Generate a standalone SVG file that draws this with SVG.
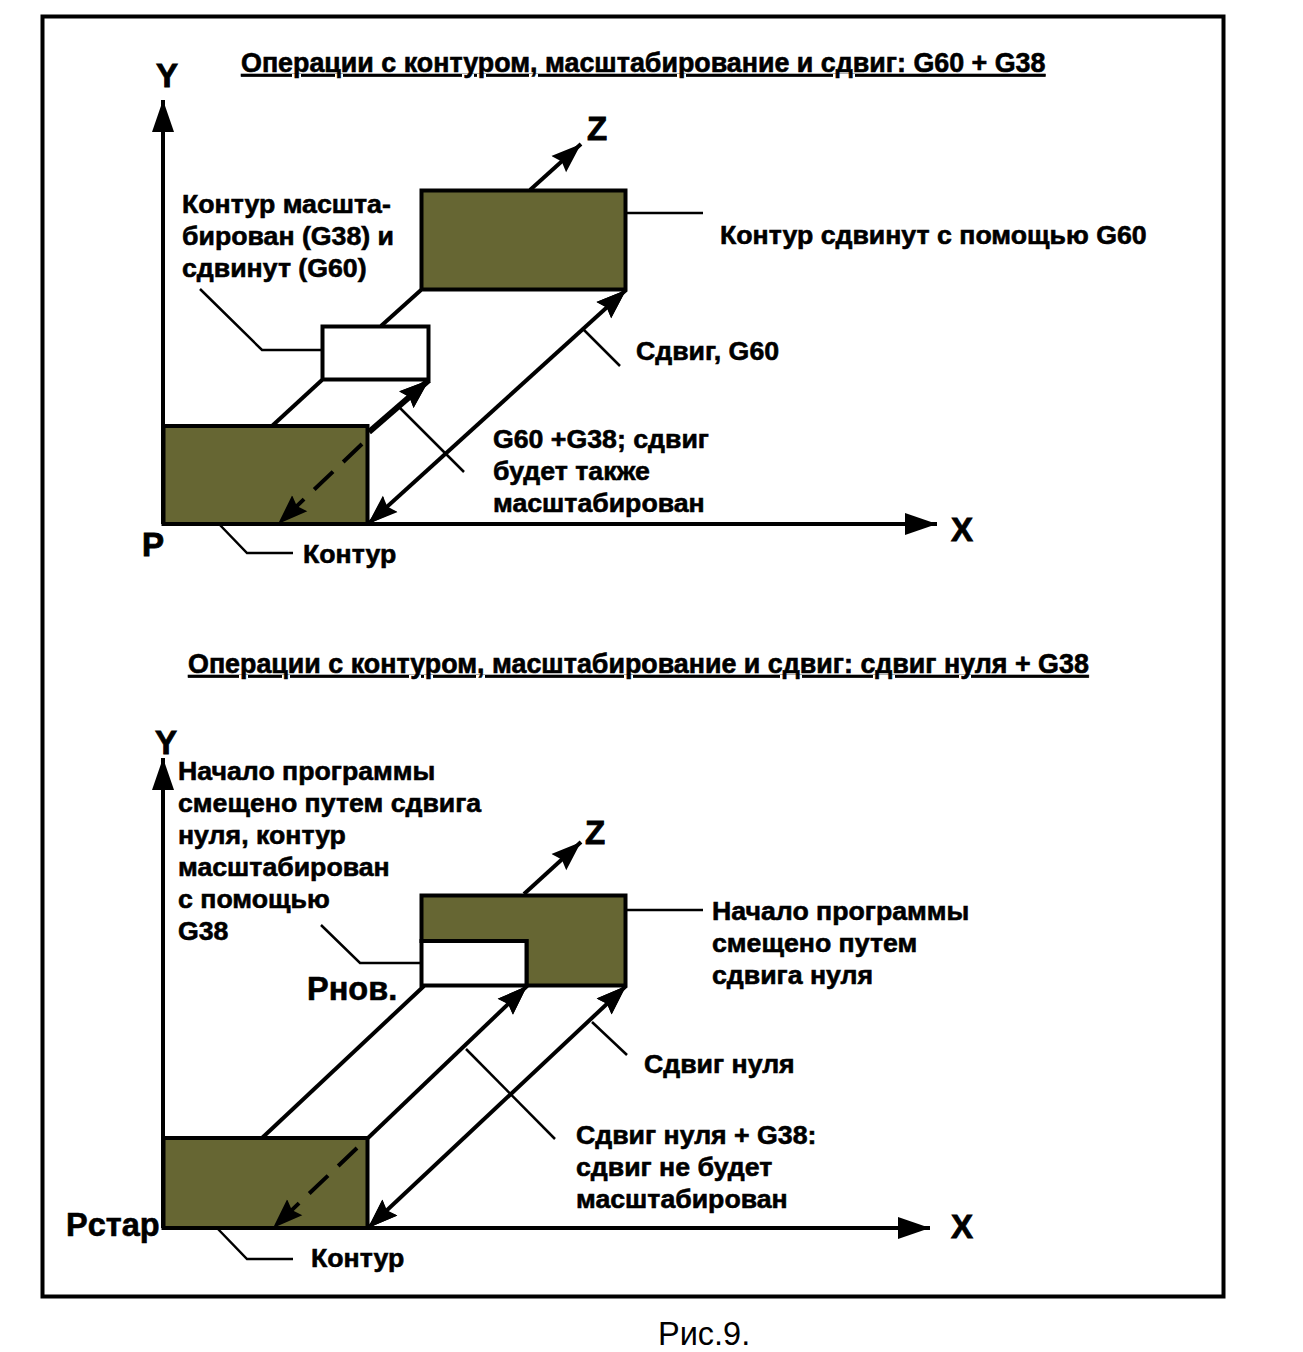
<svg xmlns="http://www.w3.org/2000/svg" width="1303" height="1352" viewBox="0 0 1303 1352">
<style>
text{font-family:"Liberation Sans",Arial,sans-serif;font-weight:bold;fill:#000;stroke:#000;stroke-width:.6px;font-size:26.7px}
.ax{font-size:33px;stroke-width:.9px}
.big{font-size:32.5px;stroke-width:.6px}
.cap{font-weight:normal;font-size:32.500px;stroke:none}
.t{text-decoration:underline;font-size:26.85px}
.box{stroke:#000;stroke-width:4;fill:#666633}
.w{fill:#fff}
.c line,.c polyline{stroke:#000;fill:none}
.l{stroke-width:4}
.n{stroke-width:2.5}
</style>
<defs>
<marker id="a" markerUnits="userSpaceOnUse" markerWidth="32" markerHeight="24" refX="30" refY="12" orient="auto-start-reverse"><path d="M0 1L30 12L0 23L4 12Z" fill="#000"/></marker>
<marker id="b" markerUnits="userSpaceOnUse" markerWidth="34" markerHeight="22" refX="32" refY="11" orient="auto-start-reverse"><path d="M0 0L32 11L0 22Z" fill="#000"/></marker>
</defs>
<rect id="frame" x="42.500" y="16.500" width="1181" height="1280" fill="#fff" stroke="#000" stroke-width="4"/>
<g id="title1"><text class="t" x="241" y="72">Операции с контуром, масштабирование и сдвиг: G60 + G38</text></g>
<g id="title2"><text class="t" x="188" y="673">Операции с контуром, масштабирование и сдвиг: сдвиг нуля + G38</text></g>
<g class="c" id="connectors">
<line class="l" x1="163" y1="524" x2="163" y2="100" marker-end="url(#b)"/>
<line class="l" x1="163" y1="524" x2="937" y2="524" marker-end="url(#b)"/>
<line class="l" x1="530" y1="190" x2="581" y2="144" marker-end="url(#a)"/>
<line class="l" x1="272" y1="426" x2="322" y2="380"/>
<line class="l" x1="381" y1="326" x2="421" y2="290"/>
<line class="l" x1="369" y1="432" x2="429" y2="380" style="stroke-width:6" marker-end="url(#a)"/>
<line class="l" x1="368" y1="524" x2="626" y2="290" marker-start="url(#a)" marker-end="url(#a)"/>
<polyline class="n" points="200,289 262,350 322,350"/>
<line class="n" x1="626" y1="213" x2="703" y2="213"/>
<line class="n" x1="583" y1="329" x2="620" y2="366"/>
<line class="n" x1="400" y1="408" x2="464" y2="472"/>
<polyline class="n" points="219,524 247,553 293,553"/>
<line class="l" x1="163" y1="1228" x2="163" y2="758" marker-end="url(#b)"/>
<line class="l" x1="163" y1="1228" x2="930" y2="1228" marker-end="url(#b)"/>
<line class="l" x1="524" y1="894" x2="581" y2="842" marker-end="url(#a)"/>
<line class="l" x1="262" y1="1138" x2="424" y2="986"/>
<line class="l" x1="368" y1="1138" x2="527" y2="986" marker-end="url(#a)"/>
<line class="l" x1="368" y1="1228" x2="626" y2="986" marker-start="url(#a)" marker-end="url(#a)"/>
<polyline class="n" points="321,925 360,963 421,963"/>
<line class="n" x1="626" y1="910" x2="703" y2="910"/>
<line class="n" x1="592" y1="1022" x2="627" y2="1055"/>
<line class="n" x1="466" y1="1049" x2="555" y2="1139"/>
<polyline class="n" points="217,1228 247,1259 293,1259"/>
</g>
<g id="n1"><rect class="box" x="163.500" y="426" width="204" height="98"/></g>
<g id="n2"><rect class="box" x="421.500" y="190.500" width="204" height="99"/></g>
<g id="n3"><rect class="box w" x="322.500" y="326.500" width="106" height="53"/></g>
<g id="n4"><rect class="box" x="163.500" y="1138" width="204" height="90"/></g>
<g id="n5"><path class="box" d="M421.500 895.500H625.500V985.500H526.500V941H421.500Z"/><rect class="box w" x="421.500" y="941" width="105" height="44.500"/></g>
<g class="c" id="connectors-over">
<line class="l" x1="362" y1="444" x2="278" y2="524" stroke-dasharray="26 14" marker-end="url(#a)"/>
<line class="l" x1="357" y1="1148" x2="273" y2="1228" stroke-dasharray="26 14" marker-end="url(#a)"/>
<path d="M368 524L398 514L390 524L398 534Z" transform="rotate(-42.200 368 524)" fill="#000"/>
<path d="M368 1228L398 1217L393 1228L398 1239Z" transform="rotate(-43 368 1228)" fill="#000"/>
<path d="M429 380L399 369L403 380L399 391Z" transform="rotate(-41 429 380)" fill="#000"/>
<path d="M626 290L596 279L600 290L596 301Z" transform="rotate(-42.200 626 290)" fill="#000"/>
<path d="M527 986L497 975L501 986L497 997Z" transform="rotate(-43.700 527 986)" fill="#000"/>
<path d="M626 986L596 975L600 986L596 997Z" transform="rotate(-43 626 986)" fill="#000"/>
</g>
<g id="labels">
<text class="ax" x="156" y="87">Y</text>
<text class="ax" x="951" y="541">X</text>
<text class="ax" x="587" y="140">Z</text>
<text class="ax" x="142" y="556">P</text>
<text class="ax" x="155" y="754">Y</text>
<text class="ax" x="951" y="1238">X</text>
<text class="ax" x="585" y="844">Z</text>
<text x="182" y="213">Контур масшта-</text>
<text x="182" y="245">бирован (G38) и</text>
<text x="182" y="277">сдвинут (G60)</text>
<text x="720" y="244">Контур сдвинут с помощью G60</text>
<text x="636" y="360">Сдвиг, G60</text>
<text x="493" y="448">G60 +G38; сдвиг</text>
<text x="493" y="480">будет также</text>
<text x="493" y="512">масштабирован</text>
<text x="303" y="563">Контур</text>
<text x="178" y="780">Начало программы</text>
<text x="178" y="812">смещено путем сдвига</text>
<text x="178" y="844">нуля, контур</text>
<text x="178" y="876">масштабирован</text>
<text x="178" y="908">с помощью</text>
<text x="178" y="940">G38</text>
<text x="712" y="920">Начало программы</text>
<text x="712" y="952">смещено путем</text>
<text x="712" y="984">сдвига нуля</text>
<text class="big" x="307" y="1000">Рнов.</text>
<text x="644" y="1073">Сдвиг нуля</text>
<text x="576" y="1144">Сдвиг нуля + G38:</text>
<text x="576" y="1176">сдвиг не будет</text>
<text x="576" y="1208">масштабирован</text>
<text class="big" x="66" y="1236">Рстар</text>
<text x="311" y="1267">Контур</text>
<text class="cap" x="658" y="1345">Рис.9.</text>
</g>
</svg>
